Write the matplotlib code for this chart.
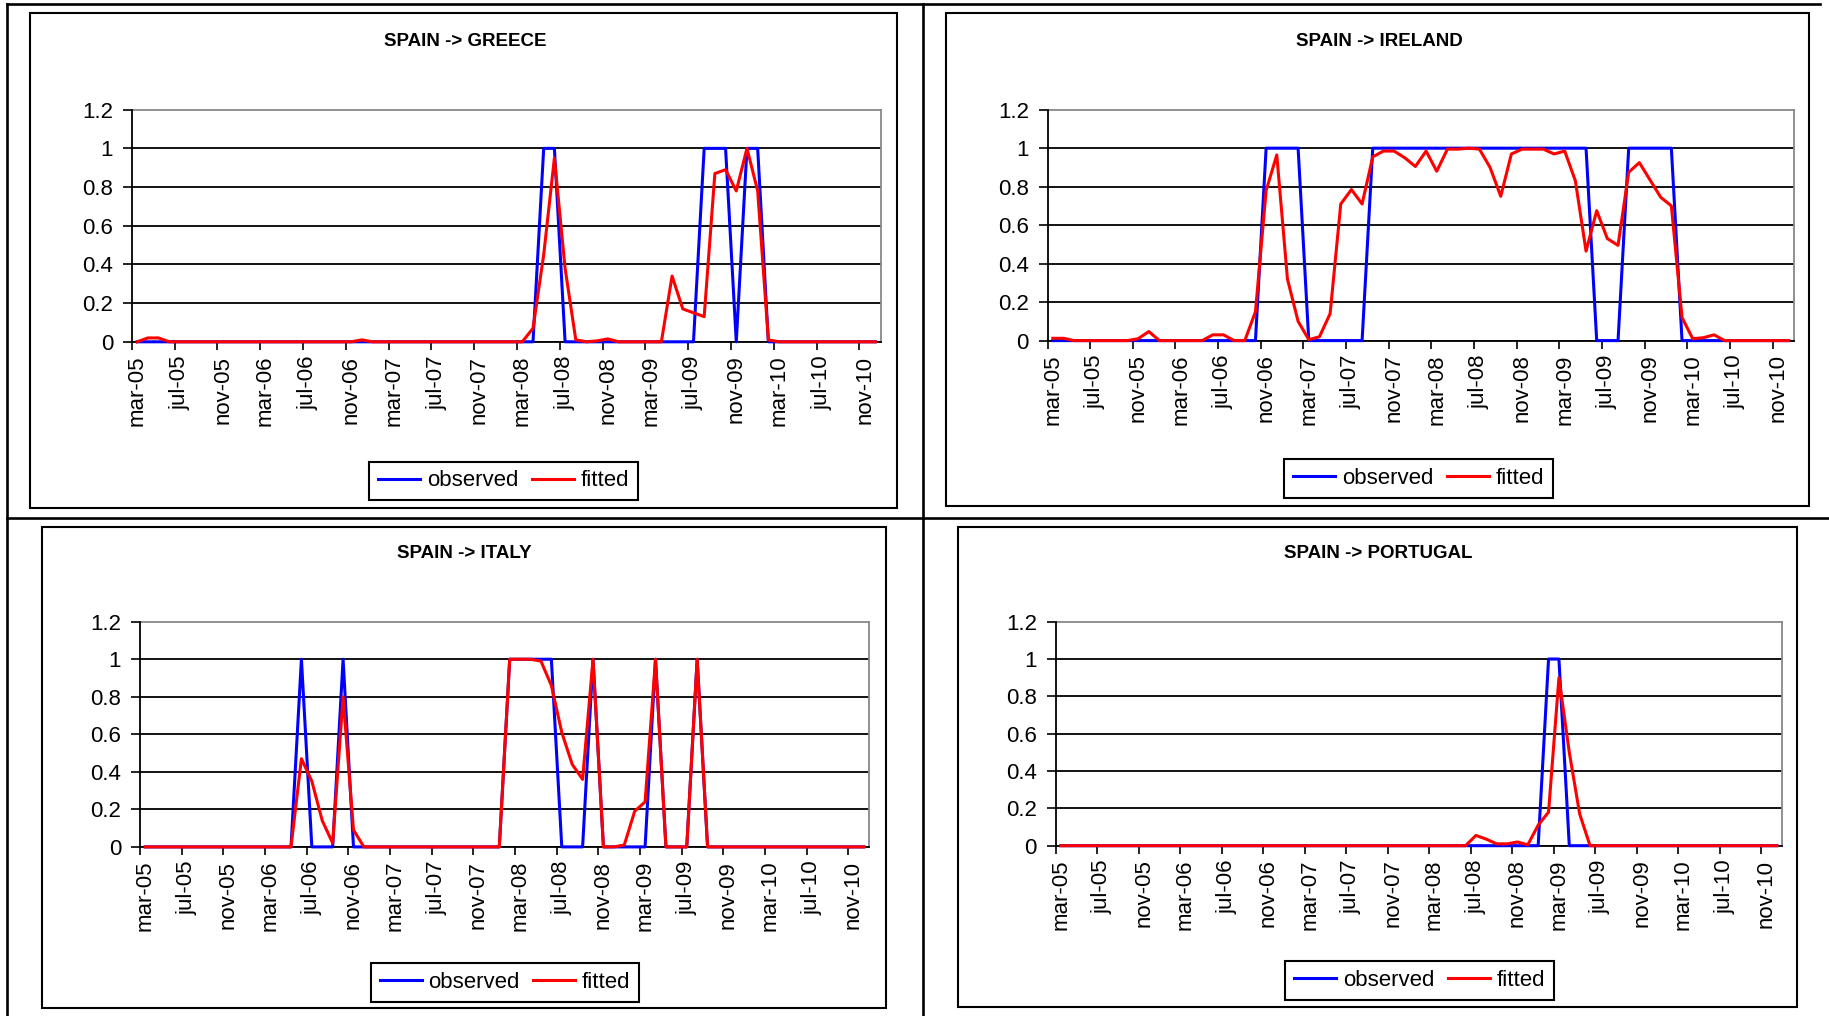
import numpy as np
import matplotlib
matplotlib.use('Agg')
import matplotlib.pyplot as plt
from matplotlib.lines import Line2D
from matplotlib.patches import Rectangle

plt.rcParams['font.family'] = ['Liberation Sans', 'DejaVu Sans']

W, H = 1829, 1016
DPI = 100

# ---------------- data ----------------
tick_labels = ['mar-05', 'jul-05', 'nov-05', 'mar-06', 'jul-06', 'nov-06',
               'mar-07', 'jul-07', 'nov-07', 'mar-08', 'jul-08', 'nov-08',
               'mar-09', 'jul-09', 'nov-09', 'mar-10', 'jul-10', 'nov-10']
y_ticks = [0, 0.2, 0.4, 0.6, 0.8, 1.0, 1.2]
y_tick_labels = ['0', '0.2', '0.4', '0.6', '0.8', '1', '1.2']
series_names = ['observed', 'fitted']
titles = ['SPAIN -> GREECE', 'SPAIN -> IRELAND', 'SPAIN -> ITALY', 'SPAIN -> PORTUGAL']

greece_observed = [0, 0, 0, 0, 0, 0, 0, 0, 0, 0,
                   0, 0, 0, 0, 0, 0, 0, 0, 0, 0,
                   0, 0, 0, 0, 0, 0, 0, 0, 0, 0,
                   0, 0, 0, 0, 0, 0, 0, 0, 1, 1,
                   0, 0, 0, 0, 0, 0, 0, 0, 0, 0,
                   0, 0, 0, 1, 1, 1, 0, 1, 1, 0,
                   0, 0, 0, 0, 0, 0, 0, 0, 0, 0]
greece_fitted = [0, .02, .02, 0, 0, 0, 0, 0, 0, 0,
                 0, 0, 0, 0, 0, 0, 0, 0, 0, 0,
                 0, .01, 0, 0, 0, 0, 0, 0, 0, 0,
                 0, 0, 0, 0, 0, 0, 0, .07, .45, .95,
                 .38, .01, 0, .005, .015, 0, 0, 0, 0, 0,
                 .34, .17, .15, .13, .87, .89, .78, 1.0, .78, .01,
                 0, 0, 0, 0, 0, 0, 0, 0, 0, 0]

ireland_observed = [0, 0, 0, 0, 0, 0, 0, 0, 0, 0,
                    0, 0, 0, 0, 0, 0, 0, 0, 0, 0,
                    1, 1, 1, 1, 0, 0, 0, 0, 0, 0,
                    1, 1, 1, 1, 1, 1, 1, 1, 1, 1,
                    1, 1, 1, 1, 1, 1, 1, 1, 1, 1,
                    1, 0, 0, 0, 1, 1, 1, 1, 1, 0,
                    0, 0, 0, 0, 0, 0, 0, 0, 0, 0]
ireland_fitted = [.012, .012, 0, 0, 0, 0, 0, 0, .01, .047,
                  0, 0, 0, 0, 0, .03, .03, 0, 0, .15,
                  .78, .965, .32, .10, .005, .02, .14, .71, .785, .71,
                  .955, .985, .985, .95, .905, .985, .88, .995, .995, 1.0,
                  .995, .90, .75, .97, .995, .995, .995, .97, .985, .83,
                  .465, .675, .53, .495, .875, .925, .835, .745, .70, .12,
                  .01, .015, .03, 0, 0, 0, 0, 0, 0, 0]

italy_observed = [0, 0, 0, 0, 0, 0, 0, 0, 0, 0,
                  0, 0, 0, 0, 0, 1, 0, 0, 0, 1,
                  0, 0, 0, 0, 0, 0, 0, 0, 0, 0,
                  0, 0, 0, 0, 0, 1, 1, 1, 1, 1,
                  0, 0, 0, 1, 0, 0, 0, 0, 0, 1,
                  0, 0, 0, 1, 0, 0, 0, 0, 0, 0,
                  0, 0, 0, 0, 0, 0, 0, 0, 0, 0]
italy_fitted = [0, 0, 0, 0, 0, 0, 0, 0, 0, 0,
                0, 0, 0, 0, 0, .47, .35, .14, .02, .80,
                .09, 0, 0, 0, 0, 0, 0, 0, 0, 0,
                0, 0, 0, 0, 0, 1.0, 1.0, 1.0, .99, .86,
                .61, .44, .36, 1.0, 0, 0, .01, .19, .24, 1.0,
                0, 0, 0, 1.0, 0, 0, 0, 0, 0, 0,
                0, 0, 0, 0, 0, 0, 0, 0, 0, 0]

portugal_observed = [0, 0, 0, 0, 0, 0, 0, 0, 0, 0,
                     0, 0, 0, 0, 0, 0, 0, 0, 0, 0,
                     0, 0, 0, 0, 0, 0, 0, 0, 0, 0,
                     0, 0, 0, 0, 0, 0, 0, 0, 0, 0,
                     0, 0, 0, 0, 0, 0, 0, 1, 1, 0,
                     0, 0, 0, 0, 0, 0, 0, 0, 0, 0,
                     0, 0, 0, 0, 0, 0, 0, 0, 0, 0]
portugal_fitted = [0, 0, 0, 0, 0, 0, 0, 0, 0, 0,
                   0, 0, 0, 0, 0, 0, 0, 0, 0, 0,
                   0, 0, 0, 0, 0, 0, 0, 0, 0, 0,
                   0, 0, 0, 0, 0, 0, 0, 0, 0, 0,
                   .055, .035, .01, .01, .02, .005, .11, .18, .90, .50,
                   .17, 0, 0, 0, 0, 0, 0, 0, 0, 0,
                   0, 0, 0, 0, 0, 0, 0, 0, 0, 0]

observed = [greece_observed, ireland_observed, italy_observed, portugal_observed]
fitted = [greece_fitted, ireland_fitted, italy_fitted, portugal_fitted]

# ---------------- layout (pixels) ----------------
plot_boxes = [(131.8, 880.7, 109.7, 341.8),
              (1047.5, 1794.0, 109.7, 340.6),
              (140.0, 869.0, 621.7, 846.9),
              (1055.7, 1782.0, 621.7, 845.7)]
chart_boxes = [(30, 896.7, 13.3, 508.3),
               (946, 1809, 13.3, 506),
               (41.7, 885.7, 527.3, 1008),
               (957.7, 1797, 527.3, 1006.7)]
title_pos = [(465, 41), (1379, 41), (464, 554), (1378, 554)]
legend_pos = [(503.5, 481), (1418.5, 478.5), (505, 982.5), (1419.5, 980.5)]

fig = plt.figure(figsize=(W / DPI, H / DPI), dpi=DPI)
fig.patch.set_facecolor('white')


def fx(x):
    return x / W


def fy(y):
    return 1 - y / H


# table lines
table_kw = dict(color='black', lw=1.9, transform=fig.transFigure)
fig.add_artist(Line2D([fx(7), fx(1820)], [fy(4.3), fy(4.3)], **table_kw))
fig.add_artist(Line2D([fx(6.7), fx(6.7)], [fy(4.3), fy(1016)], **table_kw))
fig.add_artist(Line2D([fx(922.7), fx(922.7)], [fy(4.3), fy(1016)], **table_kw))
fig.add_artist(Line2D([fx(6.7), fx(1829)], [fy(518), fy(518)], **table_kw))

# chart area boxes
for (l, r, t, b) in chart_boxes:
    fig.add_artist(Rectangle((fx(l), fy(b)), fx(r) - fx(l), fy(t) - fy(b),
                             transform=fig.transFigure, fill=False,
                             edgecolor='black', lw=1.5))

BLUE = '#0000ff'
RED = '#ff0000'

for k in range(4):
    l, r, t, b = plot_boxes[k]
    ax = fig.add_axes([fx(l), fy(b), fx(r) - fx(l), fy(t) - fy(b)])
    n = len(observed[k])
    x = np.arange(n)
    lo, = ax.plot(x, observed[k], color=BLUE, lw=2.2, clip_on=False, zorder=4,
                  label=series_names[0])
    lf, = ax.plot(x, fitted[k], color=RED, lw=2.2, clip_on=False, zorder=5,
                  label=series_names[1])
    ax.set_xlim(-0.5, n - 0.5)
    ax.set_ylim(0, 1.2)

    ax.set_yticks(y_ticks)
    ax.set_yticklabels(y_tick_labels, fontsize=16)
    ax.set_xticks(x[::4])
    ax.set_xticklabels(tick_labels, rotation=90, fontsize=16)
    ax.set_xticks(np.arange(-0.5, n - 1, 4), minor=True)
    ax.tick_params(axis='x', which='major', length=0, pad=10)
    ax.tick_params(axis='x', which='minor', length=5.5, width=1.2, direction='out', color='black')
    ax.tick_params(axis='y', which='major', length=6.5, width=1.2, direction='out', pad=7, color='black')

    ax.yaxis.grid(True, color='black', lw=1.3)
    gl = ax.get_ygridlines()
    gl[-1].set_visible(False)
    ax.set_axisbelow(True)

    for s in ['left', 'bottom']:
        ax.spines[s].set_color('black')
        ax.spines[s].set_linewidth(1.3)
        ax.spines[s].set_zorder(3)
    for s in ['top', 'right']:
        ax.spines[s].set_color('#888888')
        ax.spines[s].set_linewidth(1.3)

    tx, ty = title_pos[k]
    fig.text(fx(tx), fy(ty), titles[k], ha='center', va='center',
             fontsize=13.5, fontweight='bold')

    cx, cy = legend_pos[k]
    leg = ax.legend(handles=[lo, lf], loc='center', bbox_to_anchor=(fx(cx), fy(cy)),
                    bbox_transform=fig.transFigure, ncol=2, frameon=True,
                    fancybox=False, edgecolor='black', framealpha=1,
                    borderpad=0.4, handlelength=1.9, handletextpad=0.3,
                    columnspacing=0.6, fontsize=16)
    leg.get_frame().set_linewidth(1.5)

fig.savefig('out.png', dpi=DPI, facecolor='white')
